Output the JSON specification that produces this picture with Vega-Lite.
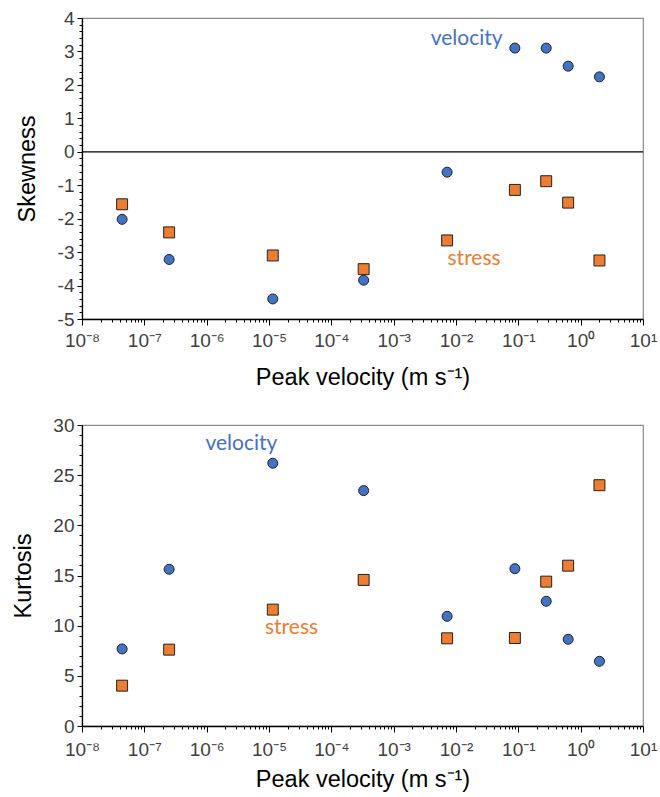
{
  "$schema": "https://vega.github.io/schema/vega-lite/v6.json",
  "background": "white",
  "padding": {"left": 11, "top": 8, "right": 5, "bottom": 5},
  "spacing": 25,
  "config": {
    "view": {"stroke": "#8c8c8c", "strokeWidth": 1.2},
    "axis": {
      "grid": false,
      "domainColor": "#000000",
      "domainWidth": 1.3,
      "tickColor": "#000000",
      "tickWidth": 1,
      "labelFont": "Liberation Sans",
      "labelFontSize": 19,
      "labelColor": "#404040",
      "titleFont": "Liberation Sans",
      "titleFontSize": 23.5,
      "titleFontWeight": "normal",
      "titleColor": "#000000",
      "labelOverlap": false,
      "labelFlush": false
    },
    "text": {"font": "Lato", "fontSize": 21}
  },
  "datasets": {
    "pts": [
      {"velocity": 4.4e-8, "series": "velocity", "skewness": -2.02, "kurtosis": 7.68},
      {"velocity": 2.5e-7, "series": "velocity", "skewness": -3.22, "kurtosis": 15.62},
      {"velocity": 1.15e-5, "series": "velocity", "skewness": -4.4, "kurtosis": 26.19},
      {"velocity": 3.3e-4, "series": "velocity", "skewness": -3.84, "kurtosis": 23.46},
      {"velocity": 7.2e-3, "series": "velocity", "skewness": -0.61, "kurtosis": 10.93},
      {"velocity": 0.088, "series": "velocity", "skewness": 3.1, "kurtosis": 15.68},
      {"velocity": 0.28, "series": "velocity", "skewness": 3.1, "kurtosis": 12.43},
      {"velocity": 0.63, "series": "velocity", "skewness": 2.56, "kurtosis": 8.64},
      {"velocity": 2.0, "series": "velocity", "skewness": 2.24, "kurtosis": 6.45},
      {"velocity": 4.4e-8, "series": "stress", "skewness": -1.57, "kurtosis": 4.02},
      {"velocity": 2.5e-7, "series": "stress", "skewness": -2.41, "kurtosis": 7.61},
      {"velocity": 1.15e-5, "series": "stress", "skewness": -3.1, "kurtosis": 11.6},
      {"velocity": 3.3e-4, "series": "stress", "skewness": -3.51, "kurtosis": 14.56},
      {"velocity": 7.2e-3, "series": "stress", "skewness": -2.65, "kurtosis": 8.74},
      {"velocity": 0.088, "series": "stress", "skewness": -1.14, "kurtosis": 8.77},
      {"velocity": 0.28, "series": "stress", "skewness": -0.88, "kurtosis": 14.39},
      {"velocity": 0.63, "series": "stress", "skewness": -1.52, "kurtosis": 15.98},
      {"velocity": 2.0, "series": "stress", "skewness": -3.25, "kurtosis": 24.0}
    ],
    "skewLabels": [
      {"velocity": 0.0148, "value": 3.37, "series": "velocity", "label": "velocity"},
      {"velocity": 0.0195, "value": -3.22, "series": "stress", "label": "stress"}
    ],
    "kurtLabels": [
      {"velocity": 3.6e-6, "value": 28.1, "series": "velocity", "label": "velocity"},
      {"velocity": 2.3e-5, "value": 9.77, "series": "stress", "label": "stress"}
    ]
  },
  "vconcat": [
    {
      "width": 561,
      "height": 301,
      "resolve": {"axis": {"x": "independent", "y": "independent"}},
      "layer": [
        {
          "data": {"name": "pts"},
          "mark": {"type": "point", "filled": true, "opacity": 1, "stroke": "#222222", "strokeWidth": 1},
          "encoding": {
            "x": {
              "field": "velocity", "type": "quantitative",
              "scale": {"type": "log", "domain": [1e-8, 10], "nice": false},
              "axis": {
                "orient": "bottom",
                "title": "Peak velocity (m s⁻¹)",
                "titlePadding": 15,
                "labelPadding": 6,
                "tickSize": 6,
                "labelOverlap": false,
                "values": [1e-8, 1e-7, 1e-6, 1e-5, 1e-4, 1e-3, 0.01, 0.1, 1, 10],
                "labelExpr": "'10' + ['⁻⁸','⁻⁷','⁻⁶','⁻⁵','⁻⁴','⁻³','⁻²','⁻¹','⁰','¹'][round(log(datum.value)/LN10) + 8]"
              }
            },
            "y": {
              "field": "skewness", "type": "quantitative",
              "scale": {"domain": [-5, 4], "nice": false, "zero": false},
              "axis": {
                "orient": "left",
                "title": "Skewness",
                "titlePadding": 18,
                "labelPadding": 3,
                "tickSize": 5,
                "labelOverlap": false,
                "values": [-5, -4, -3, -2, -1, 0, 1, 2, 3, 4],
                "labelExpr": "'' + round(datum.value)"
              }
            },
            "shape": {"field": "series", "type": "nominal", "scale": {"domain": ["velocity", "stress"], "range": ["circle", "square"]}, "legend": null},
            "color": {"field": "series", "type": "nominal", "scale": {"domain": ["velocity", "stress"], "range": ["#4472C4", "#ED7D31"]}, "legend": null},
            "size": {"field": "series", "type": "nominal", "scale": {"domain": ["velocity", "stress"], "range": [100, 120]}, "legend": null}
          }
        },
        {
          "data": {"name": "pts"},
          "mark": {"type": "point", "opacity": 0},
          "encoding": {
            "x": {
              "field": "velocity", "type": "quantitative",
              "axis": {
                "orient": "bottom",
                "title": null,
                "labels": false,
                "domain": false,
                "tickSize": 3,
                "values": [2e-8,3e-8,4e-8,5e-8,6e-8,7e-8,8e-8,9e-8,2e-7,3e-7,4e-7,5e-7,6e-7,7e-7,8e-7,9e-7,2e-6,3e-6,4e-6,5e-6,6e-6,7e-6,8e-6,9e-6,2e-5,3e-5,4e-5,5e-5,6e-5,7e-5,8e-5,9e-5,2e-4,3e-4,4e-4,5e-4,6e-4,7e-4,8e-4,9e-4,2e-3,3e-3,4e-3,5e-3,6e-3,7e-3,8e-3,9e-3,0.02,0.03,0.04,0.05,0.06,0.07,0.08,0.09,0.2,0.3,0.4,0.5,0.6,0.7,0.8,0.9,2,3,4,5,6,7,8,9]
              }
            },
            "y": {
              "field": "skewness", "type": "quantitative",
              "axis": {
                "orient": "left",
                "title": null,
                "labels": false,
                "domain": false,
                "tickSize": 3,
                "values": [-4.8,-4.6,-4.4,-4.2,-3.8,-3.6,-3.4,-3.2,-2.8,-2.6,-2.4,-2.2,-1.8,-1.6,-1.4,-1.2,-0.8,-0.6,-0.4,-0.2,0.2,0.4,0.6,0.8,1.2,1.4,1.6,1.8,2.2,2.4,2.6,2.8,3.2,3.4,3.6,3.8]
              }
            }
          }
        },
        {
          "data": {"values": [{"zero": 0}]},
          "mark": {"type": "rule", "color": "#000000", "strokeWidth": 1.3},
          "encoding": {"y": {"field": "zero", "type": "quantitative", "axis": null}}
        },
        {
          "data": {"name": "skewLabels"},
          "mark": {"type": "text", "align": "center", "baseline": "middle"},
          "encoding": {
            "x": {"field": "velocity", "type": "quantitative", "axis": null},
            "y": {"field": "value", "type": "quantitative", "axis": null},
            "text": {"field": "label"},
            "color": {"field": "series", "type": "nominal", "legend": null}
          }
        }
      ]
    },
    {
      "width": 561,
      "height": 301,
      "resolve": {"axis": {"x": "independent", "y": "independent"}},
      "layer": [
        {
          "data": {"name": "pts"},
          "mark": {"type": "point", "filled": true, "opacity": 1, "stroke": "#222222", "strokeWidth": 1},
          "encoding": {
            "x": {
              "field": "velocity", "type": "quantitative",
              "scale": {"type": "log", "domain": [1e-8, 10], "nice": false},
              "axis": {
                "orient": "bottom",
                "title": "Peak velocity (m s⁻¹)",
                "titlePadding": 8,
                "labelPadding": 8,
                "tickSize": 6,
                "labelOverlap": false,
                "values": [1e-8, 1e-7, 1e-6, 1e-5, 1e-4, 1e-3, 0.01, 0.1, 1, 10],
                "labelExpr": "'10' + ['⁻⁸','⁻⁷','⁻⁶','⁻⁵','⁻⁴','⁻³','⁻²','⁻¹','⁰','¹'][round(log(datum.value)/LN10) + 8]"
              }
            },
            "y": {
              "field": "kurtosis", "type": "quantitative",
              "scale": {"domain": [0, 30], "nice": false},
              "axis": {
                "orient": "left",
                "title": "Kurtosis",
                "titlePadding": 17,
                "labelPadding": 3,
                "tickSize": 5,
                "labelOverlap": false,
                "values": [0, 5, 10, 15, 20, 25, 30],
                "labelExpr": "'' + datum.value"
              }
            },
            "shape": {"field": "series", "type": "nominal", "scale": {"domain": ["velocity", "stress"], "range": ["circle", "square"]}, "legend": null},
            "color": {"field": "series", "type": "nominal", "scale": {"domain": ["velocity", "stress"], "range": ["#4472C4", "#ED7D31"]}, "legend": null},
            "size": {"field": "series", "type": "nominal", "scale": {"domain": ["velocity", "stress"], "range": [100, 120]}, "legend": null}
          }
        },
        {
          "data": {"name": "pts"},
          "mark": {"type": "point", "opacity": 0},
          "encoding": {
            "x": {
              "field": "velocity", "type": "quantitative",
              "axis": {
                "orient": "bottom",
                "title": null,
                "labels": false,
                "domain": false,
                "tickSize": 3,
                "values": [2e-8,3e-8,4e-8,5e-8,6e-8,7e-8,8e-8,9e-8,2e-7,3e-7,4e-7,5e-7,6e-7,7e-7,8e-7,9e-7,2e-6,3e-6,4e-6,5e-6,6e-6,7e-6,8e-6,9e-6,2e-5,3e-5,4e-5,5e-5,6e-5,7e-5,8e-5,9e-5,2e-4,3e-4,4e-4,5e-4,6e-4,7e-4,8e-4,9e-4,2e-3,3e-3,4e-3,5e-3,6e-3,7e-3,8e-3,9e-3,0.02,0.03,0.04,0.05,0.06,0.07,0.08,0.09,0.2,0.3,0.4,0.5,0.6,0.7,0.8,0.9,2,3,4,5,6,7,8,9]
              }
            },
            "y": {
              "field": "kurtosis", "type": "quantitative",
              "axis": {
                "orient": "left",
                "title": null,
                "labels": false,
                "domain": false,
                "tickSize": 3,
                "values": [1,2,3,4,6,7,8,9,11,12,13,14,16,17,18,19,21,22,23,24,26,27,28,29]
              }
            }
          }
        },
        {
          "data": {"name": "kurtLabels"},
          "mark": {"type": "text", "align": "center", "baseline": "middle"},
          "encoding": {
            "x": {"field": "velocity", "type": "quantitative", "axis": null},
            "y": {"field": "value", "type": "quantitative", "axis": null},
            "text": {"field": "label"},
            "color": {"field": "series", "type": "nominal", "legend": null}
          }
        }
      ]
    }
  ]
}
